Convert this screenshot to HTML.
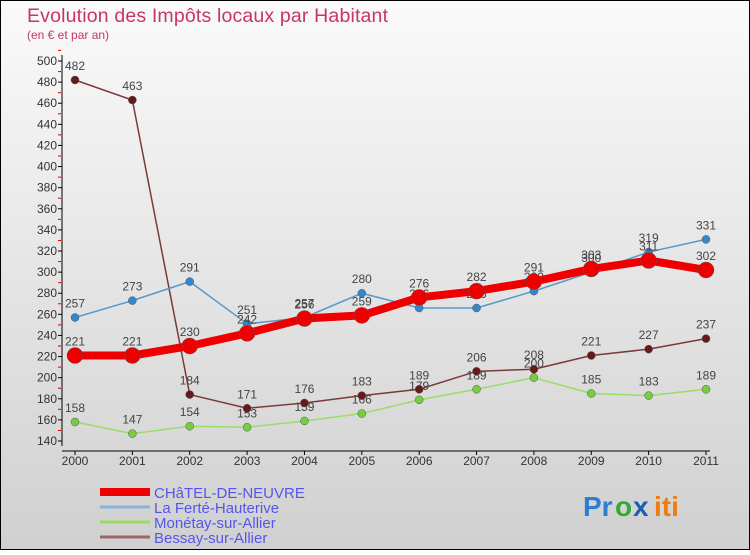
<!DOCTYPE html>
<html><head><meta charset="utf-8"><style>
body{margin:0;width:750px;height:550px;overflow:hidden}
svg text{font-family:"Liberation Sans",sans-serif}
</style></head><body>
<svg id="c" width="750" height="550">
<defs><linearGradient id="bg" x1="0" y1="0" x2="0" y2="1"><stop offset="0" stop-color="#fafafa"/><stop offset="1" stop-color="#d0d0d0"/></linearGradient></defs>
<rect x="0.5" y="0.5" width="749" height="549" fill="url(#bg)" stroke="#000"/>
<text x="27" y="22" font-size="19.5" fill="#c8336e" textLength="361">Evolution des Impôts locaux par Habitant</text>
<text x="27" y="39" font-size="12" fill="#c8336e">(en € et par an)</text>
<g id="axes"></g><g id="series"></g><g id="legend"></g>
<g font-size="28" font-weight="bold">
<text x="583" y="516" fill="#2a7fd4">Pr</text><text x="615" y="516" fill="#3a3">o</text><text x="633" y="516" fill="#1a5fb4">x</text><text x="654" y="516" fill="#f07b0f">iti</text>
</g>
</svg>
<script>
const years=[2000,2001,2002,2003,2004,2005,2006,2007,2008,2009,2010,2011];
const chatel=[221,221,230,242,256,259,276,282,291,303,311,302];
const laferte=[257,273,291,251,257,280,266,266,282,300,319,331];
const monetay=[158,147,154,153,159,166,179,189,200,185,183,189];
const bessay=[482,463,184,171,176,183,189,206,208,221,227,237];
const yTicks=[140,160,180,200,220,240,260,280,300,320,340,360,380,400,420,440,460,480,500];
const NS="http://www.w3.org/2000/svg";
const X=i=>75+i*(706-75)/11;
const Y=v=>441-(v-140)*(441-61)/360;
function mk(t,a,p){const e=document.createElementNS(NS,t);for(const k in a)e.setAttribute(k,a[k]);p.appendChild(e);return e;}
const ax=document.getElementById('axes');
const yl=mk('line',{x1:62,y1:55,x2:62,y2:446,stroke:'#000'},ax);


const xl=mk('line',{x1:62,y1:451,x2:710,y2:451,stroke:'#000'},ax);


yTicks.forEach(v=>{
 mk('line',{x1:58,y1:Y(v),x2:62,y2:Y(v),stroke:'#000'},ax);
 mk('line',{x1:58,y1:Y(v+10),x2:61,y2:Y(v+10),stroke:'#d00'},ax);
 const t=mk('text',{x:57,y:Y(v)+4,'text-anchor':'end','font-size':12,fill:'#333'},ax);t.textContent=v;
 
 
});
years.forEach((yr,i)=>{
 mk('line',{x1:X(i),y1:451,x2:X(i),y2:455,stroke:'#000'},ax);
 const t=mk('text',{x:X(i),y:465,'text-anchor':'middle','font-size':12,fill:'#333'},ax);t.textContent=yr;
 
 
});
const S=document.getElementById('series');
function series(vals,color,dot,w,r,name){
 const g=mk('g',{},S);
 
 
 mk('polyline',{points:vals.map((v,i)=>X(i)+','+Y(v)).join(' '),fill:'none',stroke:color,'stroke-width':w,'stroke-linejoin':'round'},g);
 vals.forEach((v,i)=>{
  const c=mk('circle',{cx:X(i),cy:Y(v),r:r,fill:dot,stroke:'#555','stroke-width':0.5},g);
  
  
  const t=mk('text',{x:X(i),y:Y(v)-10,'text-anchor':'middle','font-size':12,fill:'#444'},g);t.textContent=v;
  
  
 });
}
series(monetay,'#99dd66','#77cc44',1.5,4,'series-monetay');
series(bessay,'#7a3a3a','#661a1a',1.5,4,'series-bessay');
series(laferte,'#5599cc','#3388cc',1.5,4,'series-laferte');
series(chatel,'#ee0000','#ee0000',8,8,'series-chatel');
const L=document.getElementById('legend');
[['CHâTEL-DE-NEUVRE','#ee0000',8],['La Ferté-Hauterive','#88b4d8',3],['Monétay-sur-Allier','#99dd66',3],['Bessay-sur-Allier','#9a6666',3]].forEach((d,i)=>{
 const y=492+i*15;
 const g=mk('g',{},L);
 
 
 mk('line',{x1:100,y1:y,x2:150,y2:y,stroke:d[1],'stroke-width':d[2]},g);
 const t=mk('text',{x:154,y:y+6,'font-size':15,fill:'#5555ee'},g);t.textContent=d[0];
});
</script>
</body></html>
